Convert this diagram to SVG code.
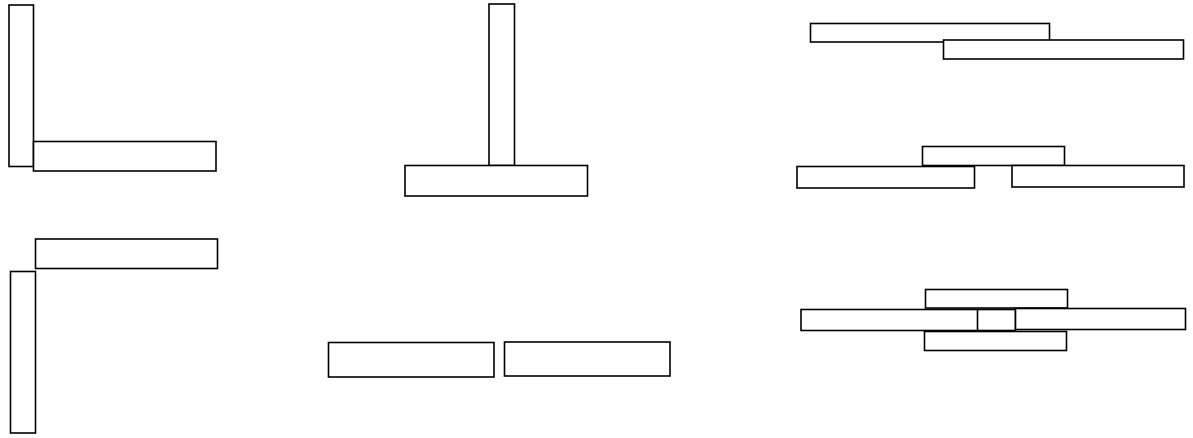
<svg xmlns="http://www.w3.org/2000/svg" width="1193" height="438" viewBox="0 0 1193 438">
<style>
.b{fill:#fff;stroke:#000;stroke-width:1.6}
</style>
<rect x="0" y="0" width="1193" height="438" fill="#fff"/>
<g id="fig-L">
<rect class="b" x="9" y="5" width="24.5" height="161.5"/>
<rect class="b" x="33.5" y="141.5" width="182.5" height="29.5"/>
</g>
<g id="fig-Gamma">
<rect class="b" x="35.5" y="239" width="182" height="29.5"/>
<rect class="b" x="10.5" y="271.5" width="25" height="161.5"/>
</g>
<g id="fig-T">
<rect class="b" x="489" y="4" width="25.5" height="161.5"/>
<rect class="b" x="405" y="165.5" width="182.5" height="30.5"/>
</g>
<g id="fig-butt">
<rect class="b" x="328.5" y="342.5" width="165.5" height="34.5"/>
<rect class="b" x="504.5" y="342" width="165.5" height="34"/>
</g>
<g id="fig-lap">
<rect class="b" x="810.5" y="23.5" width="239" height="18.5"/>
<rect class="b" x="943.5" y="40" width="240" height="19"/>
</g>
<g id="fig-strap1">
<rect class="b" x="922.5" y="146.5" width="142" height="19"/>
<rect class="b" x="797" y="166.5" width="177.5" height="21.5"/>
<rect class="b" x="1012" y="165.5" width="172" height="21.5"/>
</g>
<g id="fig-strap2">
<rect class="b" x="925.5" y="289.5" width="142" height="18.5"/>
<rect class="b" x="801" y="309.5" width="177" height="21"/>
<rect class="b" x="977.5" y="309.5" width="38" height="21"/>
<rect class="b" x="1015.5" y="308.5" width="170" height="21"/>
<rect class="b" x="924.5" y="331.5" width="142" height="19"/>
</g>
<g id="connectors"></g>
</svg>
